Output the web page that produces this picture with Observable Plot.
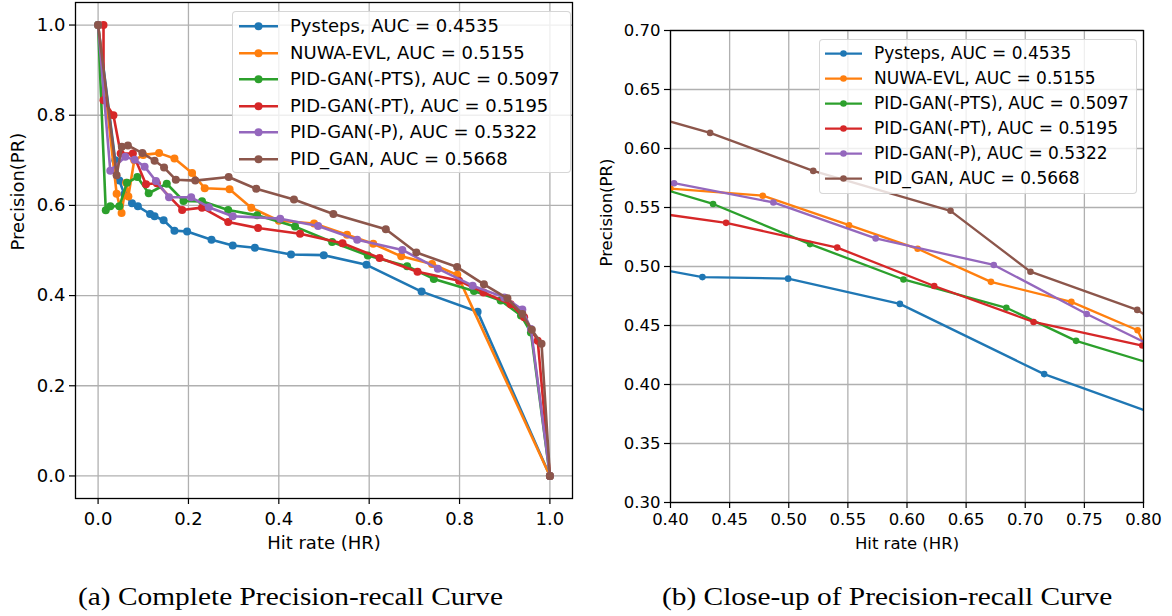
<!DOCTYPE html>
<html><head><meta charset="utf-8">
<script src="https://cdn.jsdelivr.net/npm/d3@7"></script>
<script src="https://cdn.jsdelivr.net/npm/@observablehq/plot@0.6"></script>
<style>
body{margin:0;background:#fff;}
#fig{position:relative;width:1172px;height:616px;overflow:hidden;background:#fff;font-family:"DejaVu Sans",sans-serif;color:#000;}
.panel{position:absolute;top:0;}
.legend{position:absolute;background:rgba(255,255,255,0.8);border:1px solid rgba(204,204,204,0.8);border-radius:4px;box-sizing:border-box;}
.row{position:absolute;left:0;white-space:nowrap;}
.row svg{position:absolute;top:0;}
.row span{position:absolute;top:0;display:block;}
.caption{position:absolute;top:582px;font-family:"Liberation Serif",serif;font-size:26px;line-height:30px;white-space:nowrap;transform-origin:0 50%;transform:scaleX(1.13);}
</style></head>
<body><div id="fig"></div>
<script>
// ---- data ----
const seriesNames = ["Pysteps", "NUWA-EVL", "PID-GAN(-PTS)", "PID-GAN(-PT)", "PID-GAN(-P)", "PID_GAN"];
const aucValues = ["0.4535", "0.5155", "0.5097", "0.5195", "0.5322", "0.5668"];
const seriesColors = ["#1f77b4", "#ff7f0e", "#2ca02c", "#d62728", "#9467bd", "#8c564b"];

const pystepsHR = [0.0, 0.038, 0.047, 0.058, 0.075, 0.088, 0.115, 0.125, 0.145, 0.169, 0.197, 0.251, 0.298, 0.347, 0.427, 0.4995, 0.594, 0.716, 0.840, 1.0];
const pystepsPR = [1.0, 0.700, 0.655, 0.625, 0.605, 0.598, 0.581, 0.576, 0.567, 0.544, 0.542, 0.524, 0.511, 0.506, 0.491, 0.4897, 0.4683, 0.4088, 0.364, 0.0];

const nuwaHR = [0.0, 0.041, 0.052, 0.062, 0.067, 0.080, 0.100, 0.135, 0.169, 0.208, 0.236, 0.291, 0.339, 0.400, 0.478, 0.551, 0.609, 0.671, 0.739, 0.795, 1.0];
const nuwaPR = [1.0, 0.626, 0.583, 0.650, 0.620, 0.700, 0.712, 0.716, 0.704, 0.672, 0.638, 0.636, 0.595, 0.566, 0.560, 0.535, 0.515, 0.487, 0.470, 0.446, 0.0];

const ptsHR = [0.0, 0.017, 0.027, 0.047, 0.064, 0.087, 0.112, 0.152, 0.189, 0.230, 0.288, 0.352, 0.436, 0.518, 0.597, 0.684, 0.743, 0.832, 0.891, 0.936, 0.958, 1.0];
const ptsPR = [1.0, 0.589, 0.598, 0.598, 0.650, 0.663, 0.627, 0.648, 0.610, 0.609, 0.590, 0.578, 0.553, 0.519, 0.489, 0.465, 0.437, 0.410, 0.389, 0.356, 0.318, 0.0];

const ptHR = [0.012, 0.012, 0.034, 0.050, 0.077, 0.106, 0.130, 0.186, 0.230, 0.288, 0.354, 0.447, 0.541, 0.623, 0.707, 0.799, 0.853, 0.913, 0.943, 0.973, 1.0];
const ptPR = [1.0, 0.833, 0.800, 0.715, 0.715, 0.647, 0.649, 0.590, 0.595, 0.563, 0.550, 0.537, 0.516, 0.4835, 0.453, 0.433, 0.407, 0.381, 0.352, 0.300, 0.0];

const pHR = [0.0, 0.027, 0.060, 0.081, 0.103, 0.128, 0.157, 0.206, 0.245, 0.298, 0.403, 0.487, 0.5735, 0.6734, 0.752, 0.829, 0.899, 0.939, 0.958, 1.0];
const pPR = [1.0, 0.677, 0.708, 0.701, 0.686, 0.654, 0.618, 0.618, 0.596, 0.576, 0.5706, 0.5543, 0.5238, 0.5013, 0.4598, 0.422, 0.396, 0.369, 0.326, 0.0];

const ganHR = [0.0, 0.041, 0.0525, 0.066, 0.098, 0.125, 0.146, 0.172, 0.215, 0.289, 0.350, 0.4335, 0.5207, 0.6368, 0.7044, 0.7947, 0.854, 0.906, 0.939, 0.960, 0.9815, 1.0];
const ganPR = [1.0, 0.667, 0.730, 0.733, 0.716, 0.699, 0.684, 0.657, 0.655, 0.663, 0.637, 0.6132, 0.581, 0.5472, 0.4956, 0.4632, 0.425, 0.394, 0.359, 0.324, 0.293, 0.0];

const fullTicks = [0.0, 0.2, 0.4, 0.6, 0.8, 1.0];
const zoomXTicks = [0.40, 0.45, 0.50, 0.55, 0.60, 0.65, 0.70, 0.75, 0.80];
const zoomYTicks = [0.30, 0.35, 0.40, 0.45, 0.50, 0.55, 0.60, 0.65, 0.70];
const xLabel = "Hit rate (HR)";
const yLabel = "Precision(PR)";
const captions = ["(a) Complete Precision-recall Curve", "(b) Close-up of Precision-recall Curve"];

// ---- build table ----
const hrLists = [pystepsHR, nuwaHR, ptsHR, ptHR, pHR, ganHR];
const prLists = [pystepsPR, nuwaPR, ptsPR, ptPR, pPR, ganPR];
const rows = seriesNames.flatMap((name, k) => hrLists[k].map((h, i) => ({series: name, hr: h, pr: prLists[k][i]})));

function makePanel(c) {
  const seriesMarks = seriesNames.flatMap(name => {
    const d = rows.filter(r => r.series === name);
    return [
      Plot.line(d, {x: "hr", y: "pr", stroke: "series", strokeWidth: c.lw, clip: true}),
      Plot.dot(d, {x: "hr", y: "pr", fill: "series", r: c.r, clip: true})
    ];
  });
  return Plot.plot({
    width: c.width, height: c.height,
    marginLeft: c.ml, marginRight: c.mr, marginTop: c.mt, marginBottom: c.mb,
    x: {domain: c.xd},
    y: {domain: c.yd},
    color: {domain: seriesNames, range: seriesColors},
    style: {fontFamily: "DejaVu Sans", fontSize: c.fs + "px", color: "#000", background: "transparent", overflow: "visible"},
    marks: [
      Plot.gridX(c.xt, {stroke: "#b0b0b0", strokeOpacity: 1, strokeWidth: 1.3}),
      Plot.gridY(c.yt, {stroke: "#b0b0b0", strokeOpacity: 1, strokeWidth: 1.3}),
      ...seriesMarks,
      Plot.frame({stroke: "#000", strokeWidth: 1.3}),
      Plot.axisX(c.xt, {tickFormat: c.fmt, tickSize: 6, tickPadding: c.xpad, label: null, fontSize: c.fs, strokeWidth: 1.2}),
      Plot.axisY(c.yt, {tickFormat: c.fmt, tickSize: 6, tickPadding: 4, label: null, fontSize: c.fs, strokeWidth: 1.2}),
      Plot.text([xLabel], {frameAnchor: "bottom", dy: c.xdy, fontSize: c.fs, fill: "#000"}),
      Plot.text([yLabel], {frameAnchor: "left", dx: c.ydx, rotate: -90, fontSize: c.fs, fill: "#000"})
    ]
  });
}

const fig = document.getElementById("fig");

const left = makePanel({width: 590, height: 560, ml: 75, mr: 18, mt: 2, mb: 62,
  xd: [-0.05, 1.05], yd: [-0.05, 1.05], xt: fullTicks, yt: fullTicks, fmt: d3.format(".1f"),
  fs: 18, lw: 2.6, r: 4, xdy: 50, ydx: -57, xpad: 8});
left.classList.add("panel"); left.style.left = "0px";
fig.appendChild(left);

const right = makePanel({width: 582, height: 560, ml: 80, mr: 29, mt: 30, mb: 58,
  xd: [0.4, 0.8], yd: [0.3, 0.7], xt: zoomXTicks, yt: zoomYTicks, fmt: d3.format(".2f"),
  fs: 16.5, lw: 2.3, r: 3.3, xdy: 46, ydx: -64, xpad: 5});
right.classList.add("panel"); right.style.left = "590px";
fig.appendChild(right);

function makeLegend(c) {
  const box = document.createElement("div");
  box.className = "legend";
  Object.assign(box.style, {left: c.left + "px", top: c.top + "px", width: c.width + "px", height: c.height + "px", fontSize: c.fs + "px"});
  seriesNames.forEach((name, i) => {
    const row = document.createElement("div");
    row.className = "row";
    Object.assign(row.style, {top: (c.pad + i * c.rowH) + "px", height: c.rowH + "px", width: "100%"});
    const ns = "http://www.w3.org/2000/svg";
    const svg = document.createElementNS(ns, "svg");
    svg.setAttribute("width", c.sw); svg.setAttribute("height", c.rowH);
    svg.style.left = c.sx + "px";
    const ln = document.createElementNS(ns, "line");
    ln.setAttribute("x1", 0); ln.setAttribute("x2", c.sw);
    ln.setAttribute("y1", c.rowH / 2); ln.setAttribute("y2", c.rowH / 2);
    ln.setAttribute("stroke", seriesColors[i]); ln.setAttribute("stroke-width", c.lw);
    const dt = document.createElementNS(ns, "circle");
    dt.setAttribute("cx", c.sw / 2); dt.setAttribute("cy", c.rowH / 2); dt.setAttribute("r", c.r);
    dt.setAttribute("fill", seriesColors[i]);
    svg.appendChild(ln); svg.appendChild(dt);
    const sp = document.createElement("span");
    sp.textContent = name + ", AUC = " + aucValues[i];
    Object.assign(sp.style, {left: c.tx + "px", lineHeight: c.rowH + "px"});
    row.appendChild(svg); row.appendChild(sp);
    box.appendChild(row);
  });
  fig.appendChild(box);
}

makeLegend({left: 232, top: 11, width: 339, height: 162, fs: 18, pad: 1, rowH: 26.5, sx: 6, sw: 39, tx: 57, lw: 2.6, r: 4});
makeLegend({left: 819, top: 39, width: 318, height: 155, fs: 17, pad: 0.5, rowH: 25.1, sx: 5, sw: 37, tx: 54, lw: 2.3, r: 3.3});

captions.forEach((t, i) => {
  const d = document.createElement("div");
  d.className = "caption";
  d.textContent = t;
  d.style.left = (i === 0 ? 78 : 662) + "px";
  fig.appendChild(d);
});
</script></body></html>
